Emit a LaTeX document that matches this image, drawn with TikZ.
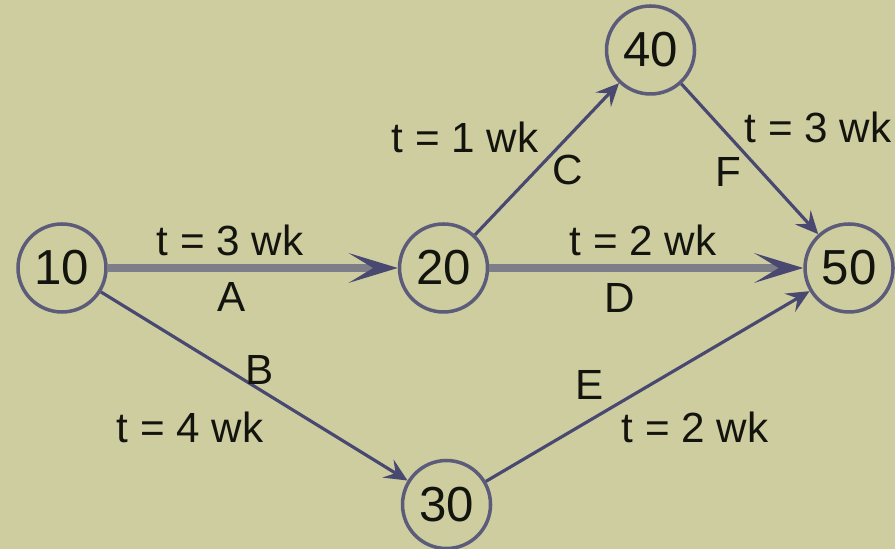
\documentclass[tikz,border=0pt]{standalone}
\usepackage{fontspec}
\setmainfont{Liberation Sans}
\usetikzlibrary{positioning,calc,arrows.meta}
\definecolor{bgkhaki}{RGB}{206,205,160}
\definecolor{ringgray}{RGB}{92,92,122}
\definecolor{linkblue}{RGB}{72,72,112}
\definecolor{critgray}{RGB}{126,126,136}
\definecolor{inkblack}{RGB}{20,20,15}
\tikzset{
  evt/.style={circle,draw=ringgray,fill=bgkhaki,line width=1pt,
              minimum size=0.88cm,inner sep=0pt,
              font=\fontsize{14}{14}\selectfont,text=inkblack},
  lbl/.style={font=\fontsize{12}{12}\selectfont,text=inkblack,inner sep=0pt},
  act/.style={-{Stealth[length=6.5pt,width=6pt,inset=2.5pt]},linkblue,line width=0.9pt},
  crit/.style={-{Stealth[length=14pt,width=8.5pt,inset=7pt,line width=0.6pt,color=linkblue]},
               critgray,line width=2.3pt},
}
\begin{document}
\begin{tikzpicture}[node distance=2.90cm]
        \fill[bgkhaki] (0,0) rectangle (8.95,5.49);
        \useasboundingbox (0,0) rectangle (8.95,5.49);
        % events
        \node[evt] (n10) at (0.62,2.81) {10};
        \node[evt,right=of n10] (n20) {20};
        \node[evt,right=3.14cm of n20] (n50) {50};
        \node[evt,below=1.45cm of n20,xshift=0.03cm] (n30) {30};
        \node[evt] (n40) at ($(n20)+(2.07,2.18)$) {40};
        % activities
        \draw[crit] (n10)--(n20); \draw[crit] (n20)--(n50);
        \draw[act] (n10)--(n30); \draw[act] (n20)--(n40);
        \draw[act] (n40)--(n50); \draw[act] (n30)--(n50);
        % durations and names
        \node[lbl] (tA) at (2.30,3.09) {t = 3 wk};
        \node[lbl] (lA) at (2.32,2.52) {A};
        \node[lbl] (tD) at (6.43,3.09) {t = 2 wk};
        \node[lbl] (lD) at (6.20,2.51) {D};
        \node[lbl] (tC) at (4.65,4.12) {t = 1 wk};
        \node[lbl] (lC) at (5.68,3.79) {C};
        \node[lbl] (tF) at (8.18,4.22) {t = 3 wk};
        \node[lbl] (lF) at (7.28,3.77) {F};
        \node[lbl] (lB) at (2.60,1.79) {B};
        \node[lbl] (tB) at (1.90,1.22) {t = 4 wk};
        \node[lbl] (lE) at (5.90,1.64) {E};
        \node[lbl] (tE) at (6.95,1.22) {t = 2 wk};
      \end{tikzpicture}
\end{document}
